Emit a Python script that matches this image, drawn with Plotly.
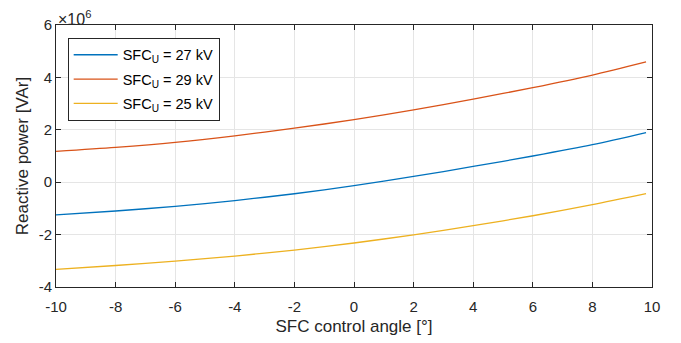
import plotly.graph_objects as go

angle = [-10, -8, -6, -4, -2, 0, 2, 4, 6, 8, 9.8]
q_27kv = [-1.25, -1.10, -0.92, -0.70, -0.44, -0.13, 0.22, 0.60, 1.00, 1.43, 1.89]
q_29kv = [1.18, 1.33, 1.52, 1.77, 2.06, 2.39, 2.76, 3.17, 3.61, 4.09, 4.59]
q_25kv = [-3.33, -3.18, -3.01, -2.82, -2.59, -2.32, -2.01, -1.66, -1.28, -0.86, -0.44]
names = ["SFC<sub>U</sub> = 27 kV", "SFC<sub>U</sub> = 29 kV", "SFC<sub>U</sub> = 25 kV"]
colors = ["#0072BD", "#D95319", "#EDB120"]
x_ticks = [-10, -8, -6, -4, -2, 0, 2, 4, 6, 8, 10]
x_ticktext = ["-10", "-8", "-6", "-4", "-2", "0", "2", "4", "6", "8", "10"]
y_ticks = [-4, -2, 0, 2, 4, 6]
y_ticktext = ["-4", "-2", "0", "2", "4", "6"]
scale = 1e6

fig = go.Figure()
for i, (ys, n, c) in enumerate(zip([q_27kv, q_29kv, q_25kv], names, colors)):
    fig.add_trace(go.Scatter(x=angle, y=[v * scale for v in ys], mode="lines", name=n,
                             legendgroup="g%d" % i,
                             line=dict(color=c, width=1.3, shape="spline", smoothing=0.8)))

font = "Liberation Sans, Arial, sans-serif"
axcommon = dict(showline=True, linecolor="#262626", linewidth=1, mirror="ticks",
                ticks="inside", ticklen=5, tickcolor="#262626", showgrid=True,
                gridcolor="#e5e5e5", gridwidth=1, zeroline=False, automargin=False,
                tickfont=dict(family=font, size=15, color="#262626"))
fig.update_xaxes(range=[-10, 10], tickvals=x_ticks, ticktext=x_ticktext,
                 ticklabelstandoff=6,
                 title=dict(text="SFC control angle [°]",
                            font=dict(family=font, size=17, color="#262626"), standoff=6),
                 **axcommon)
fig.update_yaxes(range=[-4e6, 6e6], tickvals=[v * scale for v in y_ticks],
                 ticktext=y_ticktext,
                 title=dict(text="Reactive power [VAr]",
                            font=dict(family=font, size=17, color="#262626"), standoff=5),
                 **axcommon)
fig.add_annotation(text="×10<sup>6</sup>", xref="paper", yref="paper", x=0, y=1,
                   xanchor="left", yanchor="bottom", showarrow=False,
                   font=dict(family=font, size=16, color="#262626"), yshift=-5)
fig.update_layout(width=681, height=343, margin=dict(l=48, r=37, t=16.5, b=64),
                  plot_bgcolor="white", paper_bgcolor="white",
                  font=dict(family=font, size=15, color="#262626"),
                  legend=dict(x=0.0196, y=0.951, xanchor="left", yanchor="top",
                              bordercolor="#262626", borderwidth=1, bgcolor="white",
                              itemwidth=44, tracegroupgap=2.5, traceorder="grouped",
                              font=dict(family=font, size=14.5, color="black")),
                  showlegend=True)
fig.write_html("out.html")
